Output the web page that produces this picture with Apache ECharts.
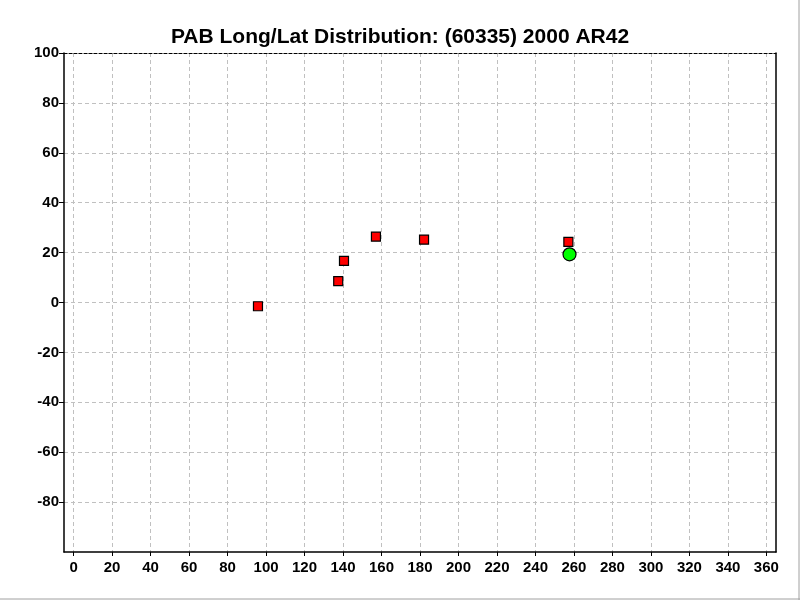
<!DOCTYPE html>
<html><head><meta charset="utf-8">
<script src="https://cdn.jsdelivr.net/npm/echarts@6/dist/echarts.min.js"></script>
<style>html,body{margin:0;padding:0;background:#fff}#c{width:800px;height:600px}</style>
</head><body><div id="c"></div>
<script>
const titleText = 'PAB Long/Lat Distribution: (60335) 2000 AR42';
const xTicks = [0,20,40,60,80,100,120,140,160,180,200,220,240,260,280,300,320,340,360];
const yTicks = [-80,-60,-40,-20,0,20,40,60,80,100];
const obsLong = [95.8, 137.5, 140.5, 157.1, 182.1, 257.1];
const obsLat  = [-1.5, 8.6, 16.7, 26.4, 25.2, 24.3];
const curLong = [257.7];
const curLat  = [19.3];

const chart = echarts.init(document.getElementById('c'), null, {renderer:'canvas'});
const font = 'Liberation Sans, Arial, sans-serif';
const grid = {left:64, right:24, top:53, bottom:48};
chart.setOption({
  animation:false,
  backgroundColor:'#fff',
  title:{text:titleText, left:'center', top:22, textStyle:{fontFamily:font, fontWeight:'bold', fontSize:21, color:'#000'}},
  grid:grid,
  xAxis:[{
    type:'value', min:-5, max:365, position:'bottom',
    axisLine:{show:true, onZero:false, lineStyle:{color:'#000', width:1.5}},
    axisTick:{show:true, length:4, customValues:xTicks, lineStyle:{color:'#000'}},
    axisLabel:{customValues:xTicks, margin:8, fontFamily:font, fontWeight:'bold', fontSize:15, color:'#000'},
    splitLine:{show:true, lineStyle:{color:'#c0c0c0', type:[4,3], width:1}}
  },{
    type:'value', min:-5, max:365, position:'top',
    axisLine:{show:true, onZero:false, lineStyle:{color:'#000', width:1, type:[3,2]}},
    axisTick:{show:false}, axisLabel:{show:false}, splitLine:{show:false}
  }],
  yAxis:[{
    type:'value', min:-100, max:100, interval:20, position:'left',
    axisLine:{show:true, onZero:false, lineStyle:{color:'#000', width:1.5}},
    axisTick:{show:true, length:5, customValues:yTicks, lineStyle:{color:'#000'}},
    axisLabel:{customValues:yTicks, margin:5, fontFamily:font, fontWeight:'bold', fontSize:15, color:'#000'},
    splitLine:{show:true, lineStyle:{color:'#c0c0c0', type:[4,3], width:1}}
  },{
    type:'value', min:-100, max:100, position:'right',
    axisLine:{show:true, onZero:false, lineStyle:{color:'#000', width:1.5}},
    axisTick:{show:false}, axisLabel:{show:false}, splitLine:{show:false}
  }],
  graphic:[
    {type:'line', shape:{x1:0,y1:599,x2:800,y2:599}, style:{stroke:'#a0a0a0', lineWidth:1}},
    {type:'line', shape:{x1:799,y1:0,x2:799,y2:600}, style:{stroke:'#a0a0a0', lineWidth:1}}
  ],
  series:[{
    type:'scatter', symbol:'rect', symbolSize:9,
    itemStyle:{color:'#ff0000', borderColor:'#000', borderWidth:1.2, opacity:1},
    data: obsLong.map((v,i)=>[v, obsLat[i]])
  },{
    type:'scatter', symbol:'circle', symbolSize:13,
    itemStyle:{color:'#00ff00', borderColor:'#000', borderWidth:1.2, opacity:1},
    data: curLong.map((v,i)=>[v, curLat[i]])
  }]
});
</script></body></html>
